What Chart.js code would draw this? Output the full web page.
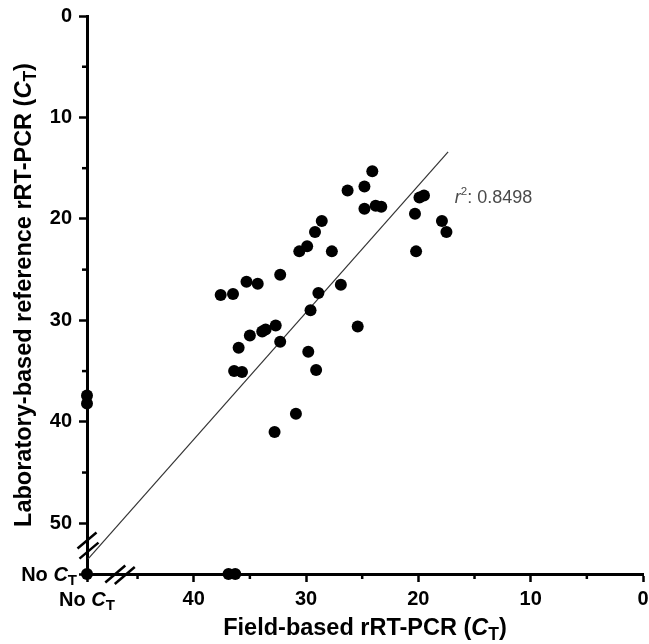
<!DOCTYPE html>
<html>
<head>
<meta charset="utf-8">
<script src="https://cdn.jsdelivr.net/npm/chart.js@4"></script>
<style>
  body { margin: 0; background: #fff; }
  #wrap { width: 649px; height: 644px; }
</style>
</head>
<body>
<div id="wrap"><canvas id="ctChart"></canvas></div>
<script>
// samples without a Ct value are put on their own spot beyond the axis break
const NO_CT_FIELD = 49.5;
const NO_CT_LAB = 55;

const fieldCt = [37.6, 36.5, 35.3, 34.3, 32.3, 30.6, 29.9, 29.2, 28.6, 27.7,
                 28.9, 26.9, 26.3, 24.8, 24.1, 24.8, 23.8, 23.3, 20.3, 20.2,
                 19.9, 19.5, 17.9, 17.5, 29.6, 25.4, 32.7, 33.6, 33.9, 35.0,
                 32.3, 36.0, 36.4, 35.7, 29.8, 29.1, 30.9, 32.8,
                 NO_CT_FIELD, NO_CT_FIELD, 36.9, 36.3, NO_CT_FIELD];
const labCt = [27.5, 27.4, 26.2, 26.4, 25.5, 23.2, 22.7, 21.3, 20.2, 23.2,
               27.3, 26.5, 17.2, 16.8, 15.3, 19.0, 18.7, 18.8, 19.5, 23.2,
               17.9, 17.7, 20.2, 21.3, 29.0, 30.6, 30.5, 30.9, 31.1, 31.5,
               32.1, 32.7, 35.0, 35.1, 33.1, 34.9, 39.2, 41.0,
               37.4, 38.2, NO_CT_LAB, NO_CT_LAB, NO_CT_LAB];

// regression line ends
const fitX = [49.4, 17.35];
const fitY = [53.5, 13.4];
const r2Value = '0.8498';

const xTicks = [0, 5, 10, 15, 20, 25, 30, 35, 40, 45, NO_CT_FIELD];
const yTicks = [0, 5, 10, 15, 20, 25, 30, 35, 40, 45, 50, NO_CT_LAB];
const xLabels = [40, 30, 20, 10, 0];
const yLabels = [0, 10, 20, 30, 40, 50];

const FAMILY = '"Liberation Sans", Arial, Helvetica, sans-serif';

function drawRich(ctx, parts, x, y, align) {
    let total = 0;
    parts.forEach(p => {
        ctx.font = p.font;
        p.w = ctx.measureText(p.t).width;
        total += p.w;
    });
    let cx = x;
    if (align === 'center') cx = x - total / 2;
    if (align === 'right') cx = x - total;
    parts.forEach(p => {
        ctx.font = p.font;
        ctx.fillText(p.t, cx, y + (p.dy || 0));
        cx += p.w;
    });
}

function isMajor(v, labels) {
    return labels.includes(v) || v === NO_CT_FIELD || v === NO_CT_LAB;
}

const extras = {
    id: 'extras',
    afterDraw(chart) {
        const ctx = chart.ctx;
        const xs = chart.scales.x, ys = chart.scales.y;
        const area = chart.chartArea;
        ctx.save();
        ctx.strokeStyle = '#000';
        ctx.fillStyle = '#000';
        ctx.lineWidth = 2.5;

        // short minor ticks
        xTicks.filter(v => !isMajor(v, xLabels)).forEach(v => {
            const px = xs.getPixelForValue(v);
            ctx.beginPath();
            ctx.moveTo(px, area.bottom);
            ctx.lineTo(px, area.bottom + 5);
            ctx.stroke();
        });
        yTicks.filter(v => !isMajor(v, yLabels)).forEach(v => {
            const py = ys.getPixelForValue(v);
            ctx.beginPath();
            ctx.moveTo(area.left, py);
            ctx.lineTo(area.left - 5, py);
            ctx.stroke();
        });

        // axis breaks
        [51.7, 52.7].forEach((v, i) => {
            const py = ys.getPixelForValue(v);
            const px = area.left + i * 2;
            ctx.beginPath();
            ctx.moveTo(px - 9.5, py + 8);
            ctx.lineTo(px + 9.5, py - 8);
            ctx.stroke();
        });
        [46.98, 46.14].forEach((v, i) => {
            const px = xs.getPixelForValue(v);
            const py = area.bottom + i * 1.5;
            ctx.beginPath();
            ctx.moveTo(px - 10, py + 8.5);
            ctx.lineTo(px + 10, py - 8.5);
            ctx.stroke();
        });

        ctx.textBaseline = 'alphabetic';
        ctx.textAlign = 'left';

        // "No CT" tick labels
        const noCt = [
            {t: 'No ', font: 'bold 20px ' + FAMILY},
            {t: 'C', font: 'italic bold 20px ' + FAMILY},
            {t: 'T', font: 'bold 15px ' + FAMILY, dy: 4.5}
        ];
        drawRich(ctx, noCt, area.left - 10, ys.getPixelForValue(NO_CT_LAB) + 6.5, 'right');
        drawRich(ctx, noCt, xs.getPixelForValue(NO_CT_FIELD), 605.5, 'center');

        // axis titles
        const ct = [
            {t: 'C', font: 'italic bold 23.5px ' + FAMILY},
            {t: 'T', font: 'bold 17.5px ' + FAMILY, dy: 5},
            {t: ')', font: 'bold 23.5px ' + FAMILY}
        ];
        drawRich(ctx, [{t: 'Field-based rRT-PCR (', font: 'bold 23.5px ' + FAMILY}].concat(ct),
            365, 634.5, 'center');
        ctx.save();
        ctx.translate(31, 295);
        ctx.rotate(-Math.PI / 2);
        drawRich(ctx, [{t: 'Laboratory-based reference rRT-PCR (', font: 'bold 23.5px ' + FAMILY}].concat(ct),
            0, 0, 'center');
        ctx.restore();

        // r squared
        ctx.fillStyle = '#4a4a4a';
        drawRich(ctx, [
            {t: 'r', font: 'italic 18px ' + FAMILY},
            {t: '2', font: '11.5px ' + FAMILY, dy: -7.5},
            {t: ': ' + r2Value, font: '18px ' + FAMILY}
        ], xs.getPixelForValue(16.75), ys.getPixelForValue(18.4), 'left');
        ctx.restore();
    }
};

const points = fieldCt.map((v, i) => ({x: v, y: labCt[i]}));
const fitLine = fitX.map((v, i) => ({x: v, y: fitY[i]}));

new Chart(document.getElementById('ctChart'), {
    type: 'scatter',
    data: {
        datasets: [{
            label: 'samples',
            data: points,
            backgroundColor: '#000',
            borderColor: '#000',
            pointRadius: 6,
            pointBorderWidth: 0,
            clip: false
        }, {
            label: 'fit',
            data: fitLine,
            showLine: true,
            borderColor: '#333',
            borderWidth: 1.2,
            pointRadius: 0,
            fill: false,
            clip: false
        }]
    },
    options: {
        responsive: true,
        maintainAspectRatio: false,
        animation: false,
        layout: {padding: {top: 16, right: 4.5, left: 0, bottom: 0}},
        plugins: {legend: {display: false}, tooltip: {enabled: false}},
        scales: {
            x: {
                type: 'linear',
                reverse: true,
                min: 0,
                max: NO_CT_FIELD,
                afterBuildTicks: axis => { axis.ticks = xTicks.map(v => ({value: v})); },
                afterFit: axis => { axis.height = 70; axis.paddingLeft = 0; axis.paddingRight = 0; },
                grid: {
                    drawOnChartArea: false,
                    tickLength: 8,
                    tickWidth: 2.5,
                    tickColor: c => isMajor(c.tick.value, xLabels) ? '#000' : 'rgba(0,0,0,0)'
                },
                border: {color: '#000', width: 3},
                ticks: {
                    autoSkip: false,
                    maxRotation: 0,
                    padding: 5,
                    color: '#000',
                    font: {family: FAMILY, size: 20, weight: 'bold'},
                    callback: v => xLabels.includes(v) ? String(v) : ''
                }
            },
            y: {
                type: 'linear',
                reverse: true,
                min: 0,
                max: NO_CT_LAB,
                afterBuildTicks: axis => { axis.ticks = yTicks.map(v => ({value: v})); },
                afterFit: axis => { axis.width = 87; axis.paddingTop = 0; axis.paddingBottom = 0; },
                grid: {
                    drawOnChartArea: false,
                    tickLength: 8,
                    tickWidth: 2.5,
                    tickColor: c => isMajor(c.tick.value, yLabels) ? '#000' : 'rgba(0,0,0,0)'
                },
                border: {color: '#000', width: 3},
                ticks: {
                    autoSkip: false,
                    padding: 7,
                    color: '#000',
                    font: {family: FAMILY, size: 20, weight: 'bold'},
                    callback: v => yLabels.includes(v) ? String(v) : ''
                }
            }
        }
    },
    plugins: [extras]
});
</script>
</body>
</html>
